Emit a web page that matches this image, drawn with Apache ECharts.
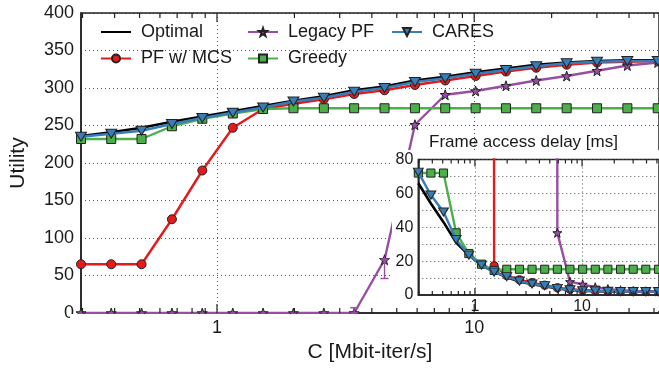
<!DOCTYPE html>
<html>
<head>
<meta charset="utf-8">
<script src="https://cdn.jsdelivr.net/npm/echarts@6/dist/echarts.min.js"></script>
<style>
  html, body { margin: 0; padding: 0; background: #fff; }
  #chart { width: 659px; height: 371px; }
</style>
</head>
<body>
<div id="chart"></div>
<script>
// Link capacity C [Mbit-iter/s] at each evaluated point
const capacity = [0.296, 0.388, 0.509, 0.668, 0.877, 1.152, 1.511, 1.983, 2.603, 3.414,
                  4.481, 5.882, 7.716, 10.13, 13.29, 17.43, 22.88, 30.03, 39.40, 51.7];

// Utility per scheme
const utilOptimal = [236, 241, 247, 255, 262, 269, 276, 283, 289, 297, 302, 310, 315, 321, 326, 331, 334, 336, 337, 337];
const utilPfMcs   = [65, 65, 65, 125, 190, 247, 272, 279, 285, 292, 297, 304, 310, 316, 322, 327, 331, 334, 335, 336];
const utilLegacy  = [0, 0, 0, 0, 0, 0, 0, 0, 0, 0, 71, 251, 291, 296, 303, 310, 316, 323, 330, 334];
const utilGreedy  = [232, 232, 232, 249, 259, 266, 272, 273, 273, 273, 273, 273, 273, 273, 273, 273, 273, 273, 273, 273];
const utilCares   = [235, 239, 243, 252, 260, 267, 274, 282, 287, 295, 300, 308, 313, 319, 324, 329, 333, 335, 336, 336];

// Legacy PF utility spread: [C, low, high]
const legacySpread = [[3.414, 0, 7], [4.481, 46, 72]];

// Frame access delay [ms] per scheme (null = not delivered; 9000 = far off the scale)
const delayOptimal = [66, 54, 43, 31, 23.5, 17.5, 13.8, 10.5, 8, 6.3, 5.2, 3.8, 3.0, 2.5, 2.3, 2.1, 2.0, 2.0, 2.0, 2.0];
const delayPfMcs   = [null, null, null, null, null, 9000, 17.2, 11.5, 9, 7.3, 5.8, 4.3, 3.4, 2.8, 2.5, 2.3, 2.1, 2.0, 2.0, 2.0];
const delayLegacy  = [null, null, null, null, null, null, null, null, null, null, 9000, 36.7, 7.8, 6.3, 4.6, 3.5, 2.8, 2.4, 2.2, 2.1];
const delayGreedy  = [72, 72, 72, 36.7, 24.5, 18.2, 14.5, 15.2, 15.2, 15.2, 15.2, 15.2, 15.2, 15.2, 15.2, 15.2, 15.2, 15.2, 15.2, 15.2];
const delayCares   = [72.5, 59, 49, 32.7, 23.5, 17.6, 13.5, 10.8, 8.2, 6.5, 5.5, 3.9, 3.1, 2.5, 2.4, 2.2, 2.0, 2.0, 2.0, 2.0];

// Log-axis tick positions
const majorTicks = [1, 10];
const minorTicks = [0.3, 0.4, 0.5, 0.6, 0.7, 0.8, 0.9, 2, 3, 4, 5, 6, 7, 8, 9, 20, 30, 40, 50];

const FONT = 'Liberation Sans';
const INK = '#1a1a1a';
const X_MIN = 0.296, X_MAX = 52.3;

const STAR = 'path://M0,-10L2.35,-3.24L9.51,-3.09L3.8,1.24L5.88,8.09L0,4L-5.88,8.09L-3.8,1.24L-9.51,-3.09L-2.35,-3.24Z';
const TRI_DOWN = 'path://M0,0L10,0L5,8.66Z';

const pairs = (ys) => capacity.map((c, i) => [c, ys[i]]);

const schemes = [
  { name: 'Optimal',   color: '#000000', symbol: null,     size: 0,       util: utilOptimal, delay: delayOptimal },
  { name: 'PF w/ MCS', color: '#e41a1c', symbol: 'circle', size: 9,       util: utilPfMcs,   delay: delayPfMcs },
  { name: 'Legacy PF', color: '#984ea3', symbol: STAR,     size: 10,      util: utilLegacy,  delay: delayLegacy },
  { name: 'Greedy',    color: '#4daf4a', symbol: 'rect',   size: 9,       util: utilGreedy,  delay: delayGreedy },
  { name: 'CARES',     color: '#377eb8', symbol: TRI_DOWN, size: [11, 9], util: utilCares,   delay: delayCares }
];

function lineSeries(s, xi, yi, data, z, sizeScale) {
  const base = {
    name: s.name,
    type: 'line',
    xAxisIndex: xi,
    yAxisIndex: yi,
    data: data,
    z: z,
    clip: true,
    connectNulls: false,
    lineStyle: { color: s.color, width: 2.4 },
    emphasis: { disabled: true },
    animation: false
  };
  if (!s.symbol) {
    // plain curve: markers are fully transparent
    base.symbol = 'circle';
    base.symbolSize = 1;
    base.showSymbol = false;
    base.lineStyle.width = 2.6;
    base.itemStyle = { color: s.color, opacity: 0, borderWidth: 0 };
    return base;
  }
  base.symbol = s.symbol;
  base.symbolSize = Array.isArray(s.size) ? s.size.map(v => v * sizeScale) : s.size * sizeScale;
  base.showSymbol = true;
  base.itemStyle = { color: s.color, borderColor: '#222', borderWidth: 1 };
  return base;
}

// Inward ticks on bottom and top edges of a grid
function tickSeries(xi, yi, lenMajor, lenMinor, z) {
  const data = majorTicks.map(v => [v, 1]).concat(minorTicks.map(v => [v, 0]));
  return {
    type: 'custom',
    xAxisIndex: xi,
    yAxisIndex: yi,
    z: z,
    silent: true,
    animation: false,
    data: data,
    encode: { x: 0, y: 1 },
    renderItem: function (params, api) {
      const cs = params.coordSys;
      const x = api.coord([api.value(0), 0])[0];
      const len = api.value(1) ? lenMajor : lenMinor;
      const st = { stroke: '#222', lineWidth: 1.2 };
      return {
        type: 'group',
        children: [
          { type: 'line', shape: { x1: x, y1: cs.y + cs.height, x2: x, y2: cs.y + cs.height - len }, style: st },
          { type: 'line', shape: { x1: x, y1: cs.y, x2: x, y2: cs.y + len }, style: st }
        ]
      };
    }
  };
}

const series = [];
schemes.forEach((s, i) => series.push(lineSeries(s, 0, 0, pairs(s.util), 2 + i * 0.1, 1)));
series.push({
  type: 'custom',
  xAxisIndex: 0,
  yAxisIndex: 0,
  z: 2.25,
  silent: true,
  animation: false,
  data: legacySpread,
  encode: { x: 0, y: [1, 2] },
  renderItem: function (params, api) {
    const lo = api.coord([api.value(0), api.value(1)]);
    const hi = api.coord([api.value(0), api.value(2)]);
    const st = { stroke: '#984ea3', lineWidth: 1.4 };
    return {
      type: 'group',
      children: [
        { type: 'line', shape: { x1: lo[0], y1: lo[1], x2: hi[0], y2: hi[1] }, style: st },
        { type: 'line', shape: { x1: lo[0] - 4, y1: lo[1], x2: lo[0] + 4, y2: lo[1] }, style: st },
        { type: 'line', shape: { x1: hi[0] - 4, y1: hi[1], x2: hi[0] + 4, y2: hi[1] }, style: st }
      ]
    };
  }
});
series.push(tickSeries(0, 0, 9, 5, 30));
schemes.forEach((s, i) => series.push(lineSeries(s, 1, 1, pairs(s.delay), 12 + i * 0.1, 0.9)));
series.push(tickSeries(1, 1, 7, 4, 13));

const dotted = { show: true, lineStyle: { color: '#555', width: 1, type: [1, 3] } };

const legendBase = {
  orient: 'vertical',
  padding: 0,
  itemWidth: 30,
  itemHeight: 10,
  itemGap: 6.5,
  selectedMode: false,
  textStyle: { fontFamily: FONT, fontSize: 18, color: INK, lineHeight: 20, padding: [0, 0, 0, 5] }
};

const option = {
  backgroundColor: '#ffffff',
  animation: false,
  textStyle: { fontFamily: FONT },
  title: {
    text: 'Frame access delay [ms]',
    left: 429,
    top: 134,
    padding: 0,
    textStyle: { fontFamily: FONT, fontSize: 17, fontWeight: 'normal', color: INK }
  },
  legend: [
    Object.assign({}, legendBase, { left: 100, top: 22, data: ['Optimal', 'PF w/ MCS'] }),
    Object.assign({}, legendBase, { left: 247, top: 22, data: ['Legacy PF', 'Greedy'] }),
    Object.assign({}, legendBase, { left: 391, top: 22, data: ['CARES'] })
  ],
  graphic: [
    {
      // backdrop of the delay inset
      type: 'rect',
      z: 5,
      silent: true,
      shape: { x: 392, y: 150, width: 280, height: 161 },
      style: { fill: '#ffffff' }
    },
    {
      // keeps the zero-level markers inside the plotting area
      type: 'rect',
      z: 4,
      silent: true,
      shape: { x: 70, y: 314, width: 330, height: 5 },
      style: { fill: '#ffffff' }
    }
  ],
  grid: [
    { left: 80, top: 13, width: 582, height: 300, show: true, borderColor: '#222', borderWidth: 1.5, backgroundColor: 'transparent', z: 2 },
    { left: 418.3, top: 159.5, width: 244, height: 135.5, show: true, borderColor: '#222', borderWidth: 1.5, backgroundColor: 'transparent', z: 10 }
  ],
  xAxis: [
    {
      type: 'log', logBase: 10, gridIndex: 0, min: X_MIN, max: X_MAX,
      name: 'C [Mbit-iter/s]', nameLocation: 'middle', nameGap: 29,
      nameTextStyle: { fontFamily: FONT, fontSize: 21, color: INK },
      axisLine: { show: true, lineStyle: { color: '#222', width: 1.5 } },
      axisTick: { show: false },
      axisLabel: { showMinLabel: false, showMaxLabel: false, margin: 6, fontFamily: FONT, fontSize: 18, color: INK },
      splitLine: dotted
    },
    {
      type: 'log', logBase: 10, gridIndex: 1, min: X_MIN, max: X_MAX, z: 10,
      axisLine: { show: true, lineStyle: { color: '#222', width: 1.5 } },
      axisTick: { show: false },
      axisLabel: { showMinLabel: false, showMaxLabel: false, margin: 4, fontFamily: FONT, fontSize: 16, color: INK },
      splitLine: dotted
    }
  ],
  yAxis: [
    {
      type: 'value', gridIndex: 0, min: 0, max: 400, interval: 50,
      name: 'Utility', nameLocation: 'middle', nameGap: 52,
      nameTextStyle: { fontFamily: FONT, fontSize: 21, color: INK },
      axisLine: { show: true, lineStyle: { color: '#222', width: 1.5 } },
      axisTick: { show: false },
      axisLabel: { margin: 7, fontFamily: FONT, fontSize: 18, color: INK },
      splitLine: dotted
    },
    {
      type: 'value', gridIndex: 1, min: 0, max: 80, interval: 10, z: 10,
      axisLine: { show: true, lineStyle: { color: '#222', width: 1.5 } },
      axisTick: { show: false },
      axisLabel: {
        margin: 5, fontFamily: FONT, fontSize: 16, color: INK,
        formatter: v => (v % 20 === 0 ? String(v) : '')
      },
      splitLine: dotted
    }
  ],
  series: series
};

const chart = echarts.init(document.getElementById('chart'), null, { renderer: 'canvas' });
chart.setOption(option);
</script>
</body>
</html>
